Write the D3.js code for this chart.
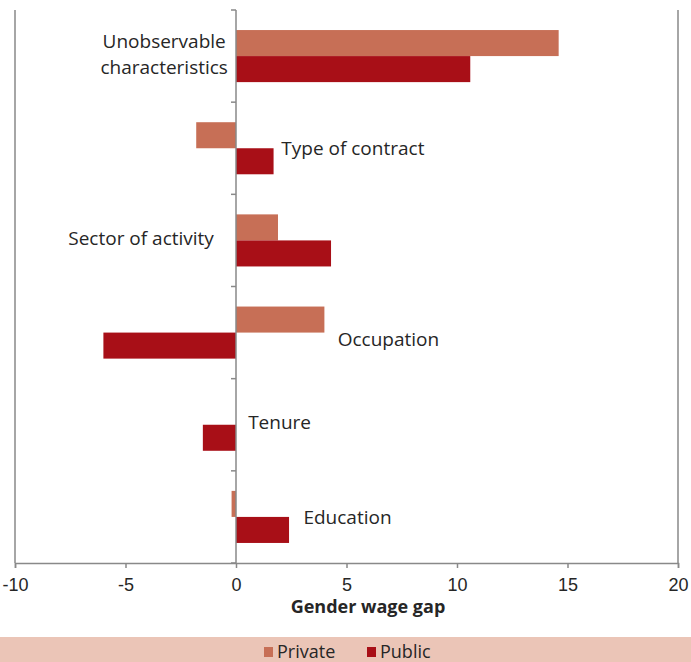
<!DOCTYPE html>
<html>
  <head>
    <meta charset='utf-8'>
    <title></title>
    <script src='https://d3js.org/d3.v7.min.js'></script>
    <style>
      body { margin: 0; background: #fff; }
      svg { display: block; font-family: 'Open Sans', Lato, sans-serif; }
      .axis text { font-size: 18px; fill: #262626; }
      .axis path, .axis line { stroke: #898989; stroke-width: 1.5px; }
      .cat { font-size: 19px; fill: #262626; }
    </style>
  </head>
  <body>
  <script type='text/javascript'>

    // data
    var categories = ['Unobservable characteristics', 'Type of contract', 'Sector of activity', 'Occupation', 'Tenure', 'Education'];
    var series = ['Private', 'Public'];
    var privateVals = [14.6, -1.8, 1.9, 4.0, 0, -0.2];
    var publicVals = [10.6, 1.7, 4.3, -6.0, -1.5, 2.4];
    var xTicks = [-10, -5, 0, 5, 10, 15, 20];

    // where each category label sits (x in data units, anchor, extra dy)
    var labelPos = [
      {x: -3.25, anchor: 'middle', dy: -1},
      {x: 2.05, anchor: 'start', dy: 0},
      {x: -1.0, anchor: 'end', dy: -2},
      {x: 4.6, anchor: 'start', dy: 7},
      {x: 0.55, anchor: 'start', dy: -2},
      {x: 3.05, anchor: 'start', dy: 0}
    ];

    var colors = {Private: '#c76f56', Public: '#a80f17'};

    var width = 691, height = 662;
    var plot = {left: 15, right: 678, top: 10, bottom: 563};

    var svg = d3.select('body').append('svg')
      .attr('width', width)
      .attr('height', height);

    var x = d3.scaleLinear().domain([-10, 20]).range([plot.left, plot.right]);
    var y0 = d3.scaleBand().domain(categories).range([plot.top, plot.bottom]).padding(0);
    var y1 = d3.scaleBand().domain(series).range([0, y0.bandwidth()]).paddingOuter(0.77).paddingInner(0);

    // frame lines at the ends of the value axis
    svg.selectAll('.edge')
      .data([-10, 20])
      .enter().append('line')
      .attr('x1', function(d) { return x(d); })
      .attr('x2', function(d) { return x(d); })
      .attr('y1', plot.top)
      .attr('y2', plot.bottom)
      .attr('stroke', '#898989')
      .attr('stroke-width', 1.5);

    var rows = categories.map(function(c, i) {
      return {cat: c, vals: [{s: 'Private', v: privateVals[i]}, {s: 'Public', v: publicVals[i]}]};
    });

    var g = svg.selectAll('.row')
      .data(rows)
      .enter().append('g')
      .attr('class', 'row')
      .attr('transform', function(d) { return 'translate(0,' + y0(d.cat) + ')'; });

    g.selectAll('rect')
      .data(function(d) { return d.vals; })
      .enter().append('rect')
      .attr('x', function(d) { return x(Math.min(0, d.v)); })
      .attr('width', function(d) { return Math.abs(x(d.v) - x(0)); })
      .attr('y', function(d) { return y1(d.s); })
      .attr('height', y1.bandwidth())
      .attr('fill', function(d) { return colors[d.s]; });

    // bottom axis
    svg.append('g')
      .attr('class', 'axis')
      .attr('transform', 'translate(0,' + plot.bottom + ')')
      .call(d3.axisBottom(x).tickValues(xTicks).tickFormat(function(d) { return String(d); })
        .tickSize(5).tickSizeOuter(5).tickPadding(8))
      .selectAll('text').attr('dy', '0.85em');

    // category axis at zero
    var yAxis = svg.append('g')
      .attr('class', 'axis')
      .attr('transform', 'translate(' + x(0) + ',0)');
    yAxis.append('line')
      .attr('y1', plot.top).attr('y2', plot.bottom);
    var bounds = categories.map(function(c) { return y0(c); }).concat([plot.bottom]);
    yAxis.selectAll('.yt')
      .data(bounds)
      .enter().append('line')
      .attr('x1', -5).attr('x2', 0)
      .attr('y1', function(d) { return d; })
      .attr('y2', function(d) { return d; });

    // category labels
    var lab = svg.selectAll('.cat')
      .data(categories)
      .enter().append('text')
      .attr('class', 'cat')
      .attr('text-anchor', function(d, i) { return labelPos[i].anchor; })
      .attr('x', function(d, i) { return x(labelPos[i].x); })
      .attr('y', function(d, i) { return y0(d) + y0.bandwidth() / 2 + labelPos[i].dy; });

    lab.each(function(d) {
      var words = d === 'Unobservable characteristics' ? ['Unobservable', 'characteristics'] : [d];
      var t = d3.select(this);
      words.forEach(function(w, k) {
        t.append('tspan')
          .attr('x', t.attr('x'))
          .attr('dy', k === 0 ? (words.length > 1 ? '-0.35em' : '0.35em') : '1.33em')
          .text(w);
      });
    });

    // axis title
    svg.append('text')
      .attr('x', 368)
      .attr('y', 613)
      .attr('text-anchor', 'middle')
      .style('font-size', '18px')
      .style('font-weight', 'bold')
      .style('fill', '#262626')
      .text('Gender wage gap');

    // legend band
    svg.append('rect')
      .attr('x', 0).attr('y', 637)
      .attr('width', width).attr('height', 25)
      .attr('fill', '#ebc5b7');

    var legend = svg.selectAll('.leg')
      .data(series)
      .enter().append('g')
      .attr('class', 'leg')
      .attr('transform', function(d, i) { return 'translate(' + (264 + i * 103) + ',647)'; });
    legend.append('rect')
      .attr('width', 9).attr('height', 10)
      .attr('fill', function(d) { return colors[d]; });
    legend.append('text')
      .attr('x', 13).attr('y', 5).attr('dy', '0.36em')
      .style('font-size', '18px')
      .style('fill', '#262626')
      .text(function(d) { return d; });

  </script>
  </body>
</html>
